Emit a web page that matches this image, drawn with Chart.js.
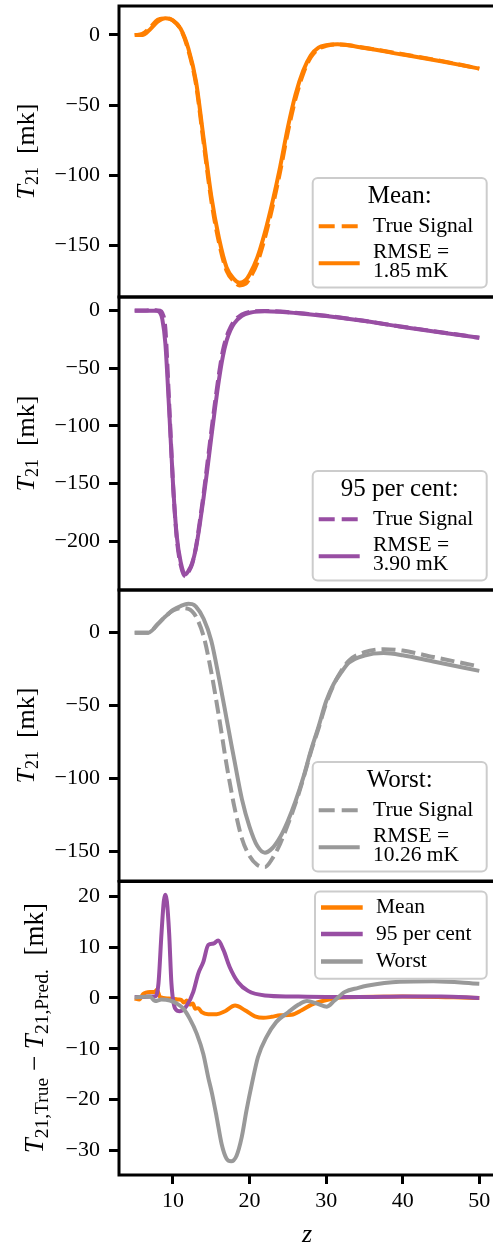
<!DOCTYPE html>
<html>
<head>
<meta charset="utf-8">
<script src="https://cdn.jsdelivr.net/npm/chart.js@4.4.1/dist/chart.umd.min.js"></script>
<style>
  html, body { margin: 0; padding: 0; background: #fff; overflow: hidden; width: 493px; height: 1245px; }
  #wrap { position: relative; width: 493px; height: 1245px; overflow: hidden; background: #fff; }
  #wrap canvas { position: absolute; left: 0; }
</style>
</head>
<body>
<div id="wrap">
  <canvas id="c1"></canvas>
  <canvas id="c2"></canvas>
  <canvas id="c3"></canvas>
  <canvas id="c4"></canvas>
</div>
<script>
// ---------------- DATA ----------------
// Panel 1: Mean
const zMean = [5,6,7,8,9,10,11,12,13,14,15,16,17,18,18.7,19.5,20,21,22,23,24,25,26,27,28,29,30,31.5,35,40,45,50];
const meanPred = [0,0,4,9.5,12,10.5,4.5,-9.5,-33,-74,-115,-145,-166,-174.5,-177,-175,-171,-159,-141,-119,-94,-66,-42.5,-25.5,-14.5,-9,-7.3,-6.7,-9.3,-14,-18.8,-24];
const meanTrue = [-0.1,0.8,5.2,10.9,11.9,10.3,4.1,-10.8,-35.2,-77,-118.2,-148.1,-168.4,-176.1,-178.8,-177.6,-174,-162.8,-144.9,-122.7,-97.4,-69.3,-45.6,-27.7,-15.9,-9.9,-7.8,-6.7,-9.1,-13.7,-18.5,-24];

// Panel 2: 95 per cent
const z95 = [5,6,7,7.8,8.3,8.6,9,9.5,10,10.5,11,11.6,12,12.5,13,13.5,14,14.5,15,15.5,16,16.5,17,17.5,18,19,20,22,24,26,28,30,35,40,45,50];
const p95Pred = [0,0,0,0,-1.5,-7,-28,-86,-150,-196,-218,-229,-226,-219,-206,-185.5,-162,-137,-110,-84,-60,-40,-26,-17,-11,-4.5,-1.8,-0.5,-1,-2,-3.2,-4.6,-9,-14.2,-19,-23.5];
const p95True = [0.2,0.2,0.3,0.3,0,-2,-15,-80,-150,-198,-220.5,-230.5,-227,-220,-205,-183,-159,-132,-105,-79,-55,-35,-22.5,-14.5,-9,-3.3,-1,-0.2,-0.7,-1.7,-3,-4.4,-8.8,-13.9,-18.7,-23.5];

// Panel 3: Worst
const zWorst = [5,6,6.8,8,9,10,11,12,12.5,13,14,15,16,17,17.6,18,19,20,21,22,23,24,25,26,27,28,29,30,31,32,33,35,37.5,40,44,50];
const worstPred = [0,0,0,5.7,11,15.5,18.2,19.7,19.5,17.8,9.5,-5.5,-31,-59,-76,-87,-114,-133,-146,-150.7,-147.5,-140,-129,-115.5,-99.5,-81,-64.5,-47,-35,-27,-20.5,-15.7,-14,-15.5,-19.8,-26.2];
const worstTrue = [0,0,0,5.8,11,15.2,16.8,16.3,14.6,11,-2.5,-27,-57.5,-90.5,-108,-119,-141,-153,-159,-160.5,-154.5,-144.5,-131.5,-117,-100.3,-81.8,-65.7,-48.5,-35.5,-26,-19,-13.4,-11.3,-12.3,-16.7,-23.2];

// Panel 4: residuals T_true - T_pred
const zResMean = [5,5.6,6.1,7,7.6,7.9,8.3,9.4,10.2,10.7,11.1,11.4,11.8,12.2,12.6,12.9,13.3,13.75,14.6,15.7,16.8,18.1,19.4,20.7,21.8,22.9,24,25.5,26.8,28.1,29.8,32,40,50];
const resMean = [-0.1,-0.3,0.8,1.2,1.2,1.6,0.2,-0.1,-0.2,-0.3,-0.4,-0.9,-0.5,-1.3,-1.1,-2.1,-2.0,-2.8,-3.2,-3.2,-2.6,-1.5,-2.4,-3.6,-3.9,-3.7,-3.4,-3.3,-2.4,-1.3,-0.5,0.1,0.3,0];
const zRes95 = [5,6,7,7.65,8.1,8.5,8.8,9.0,9.2,9.5,9.8,10.3,10.9,11.8,12.65,13.3,13.96,14.6,15.3,15.9,16.6,17.4,18.5,19.8,22,25.5,30,35,40,45,50];
const res95 = [0.2,0.2,0.3,0.3,2.8,12.7,19,20.3,19,12.7,2.8,-2.1,-2.6,-1.5,1.2,4.8,7.1,10.4,10.7,11.3,9.4,6.1,3.1,1.4,0.5,0.3,0.2,0.2,0.3,0.3,0];
const zResWorst = [5,7,7.65,8.5,9.6,10.5,11.35,12.2,13.1,13.96,14.6,15.1,15.7,16.35,17,17.6,18.3,18.97,19.6,20.3,21.1,22.2,23.5,25.05,26.4,27.5,28.8,30.1,31.1,32.45,34.2,35.3,39.6,44,50];
const resWorst = [0.1,0.3,-0.6,-0.3,-0.5,-1.1,-2.1,-4.1,-7,-11,-15.6,-18.8,-23.4,-28.7,-31.6,-32.1,-31,-27.4,-22.1,-16.9,-11.6,-7.7,-4.7,-2.8,-1.3,-0.6,-1.1,-1.7,-0.5,1.2,2,2.4,3.2,3.3,2.8];

// Ticks and labels
const xTicks = [10,20,30,40,50];
const yTicks1 = [0,-50,-100,-150];
const yTicks2 = [0,-50,-100,-150,-200];
const yTicks3 = [0,-50,-100,-150];
const yTicks4 = [20,10,0,-10,-20,-30];
const panelTitles = ['Mean:', '95 per cent:', 'Worst:'];
const rmseLabels = ['1.85 mK', '3.90 mK', '10.26 mK'];
const trueLabel = 'True Signal';
const rmsePrefix = 'RMSE =';
const residLabels = ['Mean', '95 per cent', 'Worst'];

// ---------------- STYLE ----------------
const ORANGE = '#ff7f00', PURPLE = '#984ea3', GREY = '#999999';
const FAM = '"Liberation Serif", "DejaVu Serif", serif';
const X_MIN = 2.95, X_MAX = 52.05;
const LW = 4;
const DASH = [14, 6];

Chart.defaults.animation = false;
Chart.defaults.font.family = FAM;

function pts(xs, ys) { return xs.map((x, i) => ({ x: x, y: ys[i] })); }
function fmt(v) { return v < 0 ? '\u2212' + Math.abs(v) : String(v); }

function lineDs(xs, ys, color, dashed, order) {
  return {
    data: pts(xs, ys), borderColor: color, backgroundColor: color,
    borderWidth: LW, borderDash: dashed ? DASH : [], pointRadius: 0,
    cubicInterpolationMode: 'monotone', fill: false, order: order
  };
}

const framePlugin = {
  id: 'frame',
  afterDatasetsDraw(chart) {
    const { ctx, chartArea: a } = chart;
    ctx.save();
    ctx.lineWidth = 3; ctx.strokeStyle = '#000';
    ctx.strokeRect(a.left, a.top, a.right - a.left, a.bottom - a.top);
    ctx.restore();
  }
};

function drawRotated(ctx, baseX, centerY, parts) {
  ctx.save();
  let total = 0;
  parts.forEach(p => { ctx.font = p.font; p.w = ctx.measureText(p.text).width; total += p.w; });
  ctx.translate(baseX, centerY);
  ctx.rotate(-Math.PI / 2);
  ctx.textBaseline = 'alphabetic'; ctx.textAlign = 'left'; ctx.fillStyle = '#000';
  let u = -total / 2;
  parts.forEach(p => { ctx.font = p.font; ctx.fillText(p.text, u, p.dy || 0); u += p.w; });
  ctx.restore();
}

function yTitlePlugin(parts, baseX) {
  return {
    id: 'ytitle',
    afterDraw(chart) {
      const a = chart.chartArea;
      drawRotated(chart.ctx, baseX, (a.top + a.bottom) / 2, parts);
    }
  };
}

function roundBox(ctx, x, y, w, h) {
  ctx.beginPath();
  ctx.roundRect(x, y, w, h, 5);
  ctx.fillStyle = 'rgba(255,255,255,0.8)';
  ctx.fill();
  ctx.lineWidth = 2; ctx.strokeStyle = '#cccccc';
  ctx.stroke();
}

function signalLegendPlugin(title, color, rmse) {
  return {
    id: 'sigLegend',
    afterDraw(chart) {
      const { ctx, chartArea: a } = chart;
      const w = 174, h = 109.6;
      const x = a.right - 8.3 - w, y = a.bottom - 9.5 - h;
      ctx.save();
      roundBox(ctx, x, y, w, h);
      ctx.fillStyle = '#000'; ctx.textBaseline = 'middle';
      ctx.font = '25px ' + FAM; ctx.textAlign = 'center';
      ctx.fillText(title, x + w / 2, y + 19);
      ctx.strokeStyle = color; ctx.lineWidth = LW;
      ctx.setLineDash([16, 7]);
      ctx.beginPath(); ctx.moveTo(x + 6, y + 48.3); ctx.lineTo(x + 47, y + 48.3); ctx.stroke();
      ctx.setLineDash([]);
      ctx.beginPath(); ctx.moveTo(x + 6, y + 85.3); ctx.lineTo(x + 47, y + 85.3); ctx.stroke();
      ctx.font = '21.5px ' + FAM; ctx.textAlign = 'left';
      ctx.fillText(trueLabel, x + 60.3, y + 48.3);
      ctx.fillText(rmsePrefix, x + 60.3, y + 74.5);
      ctx.fillText(rmse, x + 60.3, y + 93.2);
      ctx.restore();
    }
  };
}

const residLegendPlugin = {
  id: 'resLegend',
  afterDraw(chart) {
    const { ctx, chartArea: a } = chart;
    const w = 171.7, h = 87.3;
    const x = a.right - 8.3 - w, y = a.top + 10;
    const colors = [ORANGE, PURPLE, GREY];
    const rows = [16, 42.6, 70];
    ctx.save();
    roundBox(ctx, x, y, w, h);
    ctx.font = '21.5px ' + FAM; ctx.textAlign = 'left'; ctx.textBaseline = 'middle';
    residLabels.forEach((lab, i) => {
      ctx.strokeStyle = colors[i]; ctx.lineWidth = LW + 0.5;
      ctx.beginPath(); ctx.moveTo(x + 6, y + rows[i]); ctx.lineTo(x + 47.7, y + rows[i]); ctx.stroke();
      ctx.fillStyle = '#000';
      ctx.fillText(lab, x + 61, y + rows[i]);
    });
    ctx.restore();
  }
};

const xLabelPlugin = {
  id: 'xlabel',
  afterDraw(chart) {
    const { ctx, chartArea: a } = chart;
    ctx.save();
    ctx.font = 'italic 26px ' + FAM; ctx.textAlign = 'center'; ctx.textBaseline = 'alphabetic'; ctx.fillStyle = '#000';
    ctx.fillText('z', (a.left + a.right) / 2, a.bottom + 66.5);
    ctx.restore();
  }
};

function makeChart(id, cfg) {
  const cv = document.getElementById(id);
  cv.width = 500; cv.height = cfg.h;
  cv.style.width = '500px'; cv.style.height = cfg.h + 'px'; cv.style.top = cfg.top + 'px';
  const tickFont = { family: FAM, size: 22 };
  return new Chart(cv, {
    type: 'line',
    data: { datasets: cfg.datasets },
    options: {
      responsive: false, animation: false, events: [],
      layout: { padding: { left: 0, right: 5, top: cfg.padTop, bottom: cfg.padBottom } },
      plugins: { legend: { display: false }, tooltip: { enabled: false } },
      scales: {
        x: {
          type: 'linear', min: X_MIN, max: X_MAX, display: cfg.showX,
          afterBuildTicks: s => { s.ticks = xTicks.map(v => ({ value: v })); },
          afterFit: s => { s.height = cfg.showX ? 70 : 0; s.paddingLeft = 0; s.paddingRight = 0; s.paddingTop = 0; s.paddingBottom = 0; },
          grid: { drawOnChartArea: false, drawTicks: true, tickLength: 9, tickWidth: 3, tickColor: '#000' },
          border: { display: false },
          ticks: { font: tickFont, color: '#000', padding: 4, maxRotation: 0, autoSkip: false, callback: fmt }
        },
        y: {
          type: 'linear', min: cfg.yMin, max: cfg.yMax,
          afterBuildTicks: s => { s.ticks = cfg.yTicks.map(v => ({ value: v })); },
          afterFit: s => { s.width = 119; s.paddingTop = 0; s.paddingBottom = 0; s.paddingLeft = 0; s.paddingRight = 0; },
          grid: { drawOnChartArea: false, drawTicks: true, tickLength: 10, tickWidth: 3, tickColor: '#000' },
          border: { display: false },
          ticks: { font: tickFont, color: '#000', padding: 9, autoSkip: false, callback: fmt }
        }
      }
    },
    plugins: cfg.plugins
  });
}

const T_FONT = 'italic 26px ' + FAM;
const R_FONT = '26px ' + FAM;
const S_FONT = '18px ' + FAM;
const T4_FONT = 'italic 27px ' + FAM;
const R4_FONT = '27px ' + FAM;
const S4_FONT = '19.5px ' + FAM;
const yTitleSimple = () => [
  { text: 'T', font: T_FONT },
  { text: '21', font: S_FONT, dy: 4 },
  { text: '  [mk]', font: R_FONT }
];

makeChart('c1', {
  top: 0, h: 310, padTop: 6, padBottom: 13, showX: false,
  yMin: -187.1, yMax: 20.7, yTicks: yTicks1,
  datasets: [lineDs(zMean, meanTrue, ORANGE, true, 1), lineDs(zMean, meanPred, ORANGE, false, 0)],
  plugins: [framePlugin, signalLegendPlugin(panelTitles[0], ORANGE, rmseLabels[0]), yTitlePlugin(yTitleSimple(), 34)]
});
makeChart('c2', {
  top: 285, h: 320, padTop: 12, padBottom: 15, showX: false,
  yMin: -242.4, yMax: 11.9, yTicks: yTicks2,
  datasets: [lineDs(z95, p95True, PURPLE, true, 1), lineDs(z95, p95Pred, PURPLE, false, 0)],
  plugins: [framePlugin, signalLegendPlugin(panelTitles[1], PURPLE, rmseLabels[1]), yTitlePlugin(yTitleSimple(), 34)]
});
makeChart('c3', {
  top: 578, h: 315, padTop: 12, padBottom: 12, showX: false,
  yMin: -170.1, yMax: 29.2, yTicks: yTicks3,
  datasets: [lineDs(zWorst, worstTrue, GREY, true, 1), lineDs(zWorst, worstPred, GREY, false, 0)],
  plugins: [framePlugin, signalLegendPlugin(panelTitles[2], GREY, rmseLabels[2]), yTitlePlugin(yTitleSimple(), 34)]
});
makeChart('c4', {
  top: 869, h: 376, padTop: 12.5, padBottom: 0, showX: true,
  yMin: -34.8, yMax: 22.9, yTicks: yTicks4,
  datasets: [lineDs(zResMean, resMean, ORANGE, false, 2), lineDs(zRes95, res95, PURPLE, false, 1), lineDs(zResWorst, resWorst, GREY, false, 0)],
  plugins: [framePlugin, residLegendPlugin, xLabelPlugin, yTitlePlugin([
    { text: 'T', font: T4_FONT },
    { text: '21,True', font: S4_FONT, dy: 4.5 },
    { text: ' \u2212 ', font: R4_FONT },
    { text: 'T', font: T4_FONT },
    { text: '21,Pred.', font: S4_FONT, dy: 4.5 },
    { text: '  [mk]', font: R4_FONT }
  ], 43)]
});
</script>
</body>
</html>
